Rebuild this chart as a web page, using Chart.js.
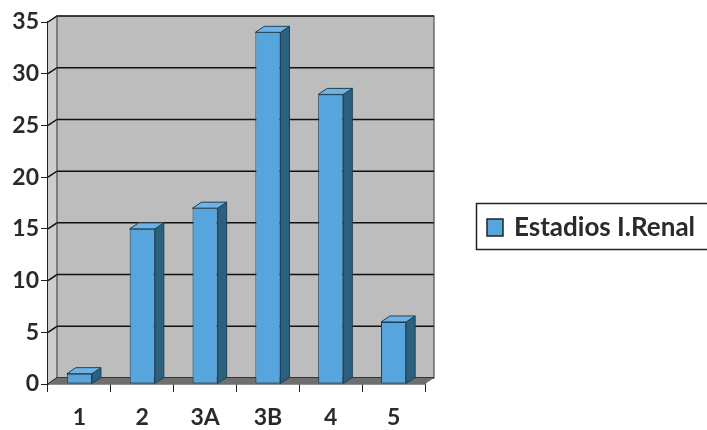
<!DOCTYPE html>
<html>
<head>
<meta charset="utf-8">
<script src="https://cdn.jsdelivr.net/npm/chart.js@4/dist/chart.umd.min.js"></script>
<style>
  body { margin: 0; background: #fff; }
  #wrap { width: 707px; height: 430px; }
</style>
</head>
<body>
<div id="wrap"><canvas id="EstadiosChart"></canvas></div>
<script>
var categories = ["1", "2", "3A", "3B", "4", "5"];
var estadios = [1, 15, 17, 34, 28, 6];
var seriesLabel = "Estadios I.Renal";
var yTicks = [0, 5, 10, 15, 20, 25, 30, 35];

var depthX = 9;
var depthY = 6;
var tickFont = {family: "Lato", weight: "bold", size: 23};

// gray back wall, left wall and floor, with the gridlines on the back wall
var wallPlugin = {
    id: 'wall3d',
    beforeDatasetsDraw: chart => {
        let ctx = chart.ctx;
        let a = chart.chartArea;
        let yAxis = chart.scales.y;
        ctx.save();
        // back wall
        ctx.fillStyle = '#bdbdbd';
        ctx.fillRect(a.left + depthX, a.top - depthY, a.right - a.left, a.bottom - a.top);
        // left wall
        ctx.fillStyle = '#cdcdcd';
        ctx.beginPath();
        ctx.moveTo(a.left, a.top);
        ctx.lineTo(a.left + depthX, a.top - depthY);
        ctx.lineTo(a.left + depthX, a.bottom - depthY);
        ctx.lineTo(a.left, a.bottom);
        ctx.closePath();
        ctx.fill();
        // gridlines
        ctx.strokeStyle = '#111';
        ctx.lineWidth = 1.5;
        yTicks.forEach(v => {
            let y = yAxis.getPixelForValue(v) - depthY;
            ctx.beginPath();
            ctx.moveTo(a.left, y + depthY);
            ctx.lineTo(a.left + depthX, y);
            ctx.lineTo(a.right + depthX, y);
            ctx.stroke();
        });
        // wall outline
        ctx.lineWidth = 1;
        ctx.strokeStyle = '#333';
        ctx.strokeRect(a.left + depthX, a.top - depthY, a.right - a.left, a.bottom - a.top);
        // floor
        ctx.fillStyle = '#6f6f6f';
        ctx.beginPath();
        ctx.moveTo(a.left, a.bottom);
        ctx.lineTo(a.right, a.bottom);
        ctx.lineTo(a.right + depthX, a.bottom - depthY);
        ctx.lineTo(a.left + depthX, a.bottom - depthY);
        ctx.closePath();
        ctx.fill();
        ctx.restore();
    },
    // side and top faces of the bars
    afterDatasetsDraw: chart => {
        let ctx = chart.ctx;
        let meta = chart.getDatasetMeta(0);
        ctx.save();
        ctx.lineWidth = 1;
        ctx.strokeStyle = '#1e3f55';
        meta.data.forEach(bar => {
            let p = bar.getProps(['x', 'y', 'base', 'width'], true);
            let l = p.x - p.width / 2, r = p.x + p.width / 2;
            ctx.fillStyle = '#2b617f';
            ctx.beginPath();
            ctx.moveTo(r, p.y);
            ctx.lineTo(r + depthX, p.y - depthY);
            ctx.lineTo(r + depthX, p.base - depthY);
            ctx.lineTo(r, p.base);
            ctx.closePath();
            ctx.fill();
            ctx.stroke();
            ctx.fillStyle = '#6db3e6';
            ctx.beginPath();
            ctx.moveTo(l, p.y);
            ctx.lineTo(l + depthX, p.y - depthY);
            ctx.lineTo(r + depthX, p.y - depthY);
            ctx.lineTo(r, p.y);
            ctx.closePath();
            ctx.fill();
            ctx.stroke();
        });
        ctx.restore();
    },
    // boxed legend on the right
    afterDraw: chart => {
        let ctx = chart.ctx;
        ctx.save();
        ctx.strokeStyle = '#222';
        ctx.lineWidth = 1.5;
        ctx.strokeRect(476.5, 203.5, 240, 46);
        ctx.fillStyle = '#56a5dd';
        ctx.fillRect(487, 219, 16, 17);
        ctx.strokeRect(487, 219, 16, 17);
        ctx.fillStyle = '#2a2a2a';
        ctx.font = 'bold 26px Lato';
        ctx.textBaseline = 'middle';
        ctx.fillText(chart.data.datasets[0].label, 514, 228);
        ctx.restore();
    }
};

new Chart(document.getElementById('EstadiosChart'), {
    type: 'bar',
    plugins: [wallPlugin],
    data: {
        labels: categories,
        datasets: [{
            label: seriesLabel,
            data: estadios,
            backgroundColor: '#56a5dd',
            borderColor: '#1e3f55',
            borderWidth: 1,
            borderSkipped: false,
            barPercentage: 0.8,
            categoryPercentage: 0.5
        }]
    },
    options: {
        responsive: true,
        maintainAspectRatio: false,
        animation: false,
        layout: {padding: {top: 22, right: 282, bottom: 0, left: 0}},
        plugins: {
            legend: {display: false},
            tooltip: {enabled: false}
        },
        scales: {
            x: {
                afterFit: scale => { scale.height = 46; },
                grid: {
                    display: true,
                    offset: true,
                    drawOnChartArea: false,
                    tickLength: 8,
                    color: '#222'
                },
                border: {color: '#222', width: 1.5},
                ticks: {color: '#2a2a2a', font: tickFont, padding: 12}
            },
            y: {
                min: 0,
                max: 35,
                afterFit: scale => { scale.width = 48; },
                afterBuildTicks: scale => {
                    scale.ticks = yTicks.map(v => ({value: v}));
                },
                grid: {
                    display: true,
                    drawOnChartArea: false,
                    tickLength: 7,
                    color: '#222'
                },
                border: {color: '#222', width: 1.5},
                ticks: {color: '#2a2a2a', font: tickFont, padding: 2}
            }
        }
    }
});
</script>
</body>
</html>
